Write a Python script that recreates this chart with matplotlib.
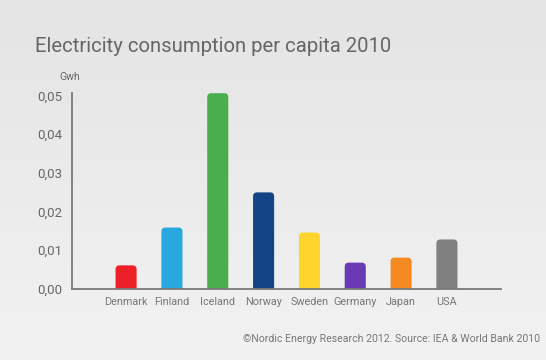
import numpy as np
import matplotlib
matplotlib.use("Agg")
import matplotlib.pyplot as plt
from matplotlib.patches import FancyBboxPatch
from matplotlib.ticker import FuncFormatter
from matplotlib.colors import LinearSegmentedColormap

countries = ["Denmark", "Finland", "Iceland", "Norway", "Sweden", "Germany", "Japan", "USA"]
values = [0.0060, 0.0158, 0.0506, 0.0249, 0.0145, 0.0067, 0.0080, 0.0127]
colors = ["#ee2027", "#29a8e0", "#4aae4f", "#134486", "#fed52c", "#6a3ab5", "#f58a21", "#808080"]
yticks = [0.00, 0.01, 0.02, 0.03, 0.04, 0.05]

W, H = 546, 360
fig = plt.figure(figsize=(W / 100, H / 100), dpi=100)

# background gradient
bg = fig.add_axes([0, 0, 1, 1], zorder=-10)
grad = np.linspace(0, 1, 256).reshape(-1, 1)
cmap = LinearSegmentedColormap.from_list("bg", ["#e4e4e4", "#f2f2f2"])
bg.imshow(grad, aspect="auto", cmap=cmap, extent=[0, 1, 0, 1], origin="upper")
bg.axis("off")

ax = fig.add_axes([72 / W, 1 - 288.5 / H, (501 - 72) / W, (288.5 - 92.7) / H])
ax.patch.set_alpha(0)
ymax = (288.5 - 92.7) / 38.6 * 0.01
ax.set_ylim(0, ymax)
ax.set_xlim(-1.18, len(countries) - 1 + 1.18)

x = np.arange(len(countries))
bw = 0.46
px_x = (501 - 72) / (len(countries) - 1 + 2.36)  # px per x unit
px_y = (288.5 - 92.7) / ymax  # px per y unit
r_px = 4.0
r = r_px / px_x
aspect = (1 / px_y) / (1 / px_x)
for xi, v, c in zip(x, values, colors):
    p = FancyBboxPatch((xi - bw / 2, -0.002), bw, v + 0.002,
                       boxstyle=f"round,pad=0,rounding_size={r}",
                       mutation_aspect=aspect, facecolor=c, edgecolor="none", zorder=2)
    ax.add_patch(p)

for s in ["top", "right"]:
    ax.spines[s].set_visible(False)
for s in ["left", "bottom"]:
    ax.spines[s].set_color("#7a7a7a")
    ax.spines[s].set_linewidth(1.3)
    ax.spines[s].set_zorder(3)

ax.set_yticks(yticks)
ax.yaxis.set_major_formatter(FuncFormatter(lambda v, p: f"{v:.2f}".replace(".", ",")))
ax.set_xticks(x)
ax.set_xticklabels(countries)
ax.tick_params(axis="both", length=0, colors="#666666", labelsize=9.5)
ax.tick_params(axis="y", pad=7)
ax.tick_params(axis="x", pad=6, labelcolor="#777777", labelsize=7.8)
for t in ax.get_xticklabels() + ax.get_yticklabels():
    t.set_fontfamily("Roboto")

fig.text(35 / W, 1 - 46 / H, "Electricity consumption per capita 2010", fontsize=14.6,
         color="#666666", family="Roboto", va="center", ha="left")
fig.text(59 / W, 1 - 77 / H, "Gwh", fontsize=7.5, color="#666666", family="Roboto",
         va="center", ha="left")
fig.text(540 / W, 1 - 339 / H, "\u00a9Nordic Energy Research 2012. Source: IEA & World Bank 2010",
         fontsize=7.6, color="#777777", family="Roboto", va="center", ha="right")

fig.savefig("out.png", dpi=100)
